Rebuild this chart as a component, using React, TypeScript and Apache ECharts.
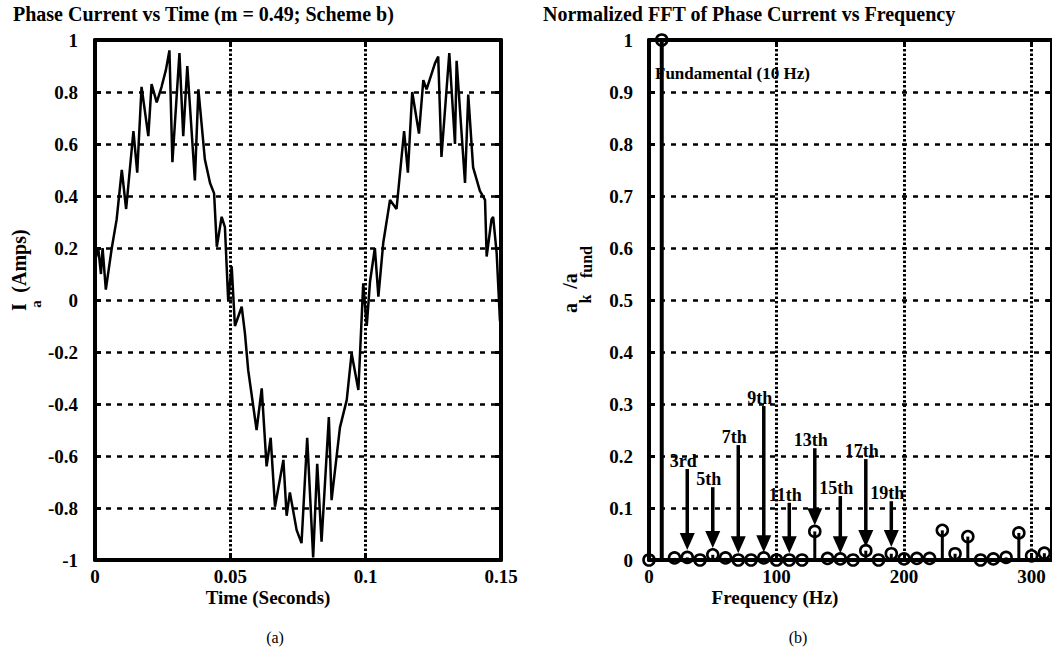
import React, { useEffect, useRef } from "react";
import * as echarts from "echarts";

// ---- Left panel: phase current waveform ----
const timeS = [
  0, 0.0012, 0.0022, 0.0028, 0.004, 0.0062, 0.008, 0.0099, 0.0115, 0.0142, 0.0156, 0.0172,
  0.0197, 0.0209, 0.0228, 0.0246, 0.0262, 0.0275, 0.0286, 0.0312, 0.0326, 0.0341, 0.0369,
  0.0382, 0.0406, 0.0425, 0.044, 0.045, 0.0468, 0.048, 0.0492, 0.0505, 0.0517, 0.0542,
  0.0554, 0.0566, 0.0597, 0.0616, 0.0634, 0.0649, 0.0665, 0.0696, 0.0708, 0.072, 0.0745,
  0.0763, 0.0784, 0.0806, 0.0821, 0.0837, 0.0864, 0.0874, 0.0905, 0.093, 0.0948, 0.0973,
  0.0991, 0.1004, 0.1016, 0.1034, 0.1047, 0.1065, 0.109, 0.1114, 0.1142, 0.1156, 0.1172,
  0.1197, 0.1213, 0.1225, 0.1256, 0.1268, 0.128, 0.1309, 0.133, 0.1336, 0.1367, 0.1379,
  0.1397, 0.1422, 0.1441, 0.1447, 0.1465, 0.1471, 0.1484, 0.1496, 0.15,
];
const currentA = [
  0.15, 0.2, 0.1, 0.2, 0.04, 0.2, 0.31, 0.5, 0.35, 0.65, 0.49, 0.82,
  0.63, 0.83, 0.76, 0.82, 0.885, 0.96, 0.53, 0.95, 0.63, 0.9, 0.46,
  0.81, 0.54, 0.45, 0.41, 0.205, 0.32, 0.28, 0.0, 0.13, -0.1, -0.026,
  -0.128, -0.27, -0.5, -0.34, -0.64, -0.53, -0.795, -0.615, -0.83, -0.74, -0.885,
  -0.935, -0.53, -0.99, -0.63, -0.93, -0.45, -0.77, -0.49, -0.385, -0.205, -0.346,
  0.064, -0.1, 0.07, 0.2, 0.013, 0.22, 0.385, 0.35, 0.65, 0.49, 0.8,
  0.64, 0.846, 0.81, 0.91, 0.936, 0.55, 0.95, 0.6, 0.92, 0.45, 0.79,
  0.51, 0.42, 0.385, 0.167, 0.31, 0.32, 0.18, -0.077, -0.1,
];

// ---- Right panel: normalized FFT ----
const freqHz = [
  0, 10, 20, 30, 40, 50, 60, 70, 80, 90, 100, 110, 120, 130, 140, 150, 160, 170, 180, 190,
  200, 210, 220, 230, 240, 250, 260, 270, 280, 290, 300, 310,
];
const fftMag = [
  0, 1.0, 0.004, 0.005, 0.0, 0.01, 0.004, 0.0, 0.0, 0.004, 0.0, 0.0, 0.0, 0.055, 0.003, 0.002,
  0.0, 0.018, 0.0, 0.012, 0.002, 0.003, 0.003, 0.057, 0.012, 0.045, 0.0, 0.002, 0.005, 0.052,
  0.008, 0.013,
];

// ---- Harmonic annotations (arrows) ----
const harmonicLabels = ["3rd", "5th", "7th", "9th", "11th", "13th", "15th", "17th", "19th"];
const harmonicFreq = [30, 50, 70, 90, 110, 130, 150, 170, 190];
const arrowTop = [0.175, 0.14, 0.221, 0.296, 0.11, 0.215, 0.123, 0.194, 0.113];
const arrowTip = [0.019, 0.023, 0.013, 0.015, 0.013, 0.067, 0.013, 0.025, 0.025];

// ---- Tick labels ----
const timeTicks = ["0", "0.05", "0.1", "0.15"];
const freqTicks = ["0", "100", "200", "300"];

const FONT = '"Liberation Serif", "Times New Roman", serif';
const BOLD = (s: number) => `bold ${s}px ${FONT}`;

export default function App() {
  const ref = useRef<HTMLDivElement>(null);

  useEffect(() => {
    document.body.style.margin = "0";
    if (!ref.current) return;
    const chart = echarts.init(ref.current, undefined, { renderer: "svg" });

    const waveData = timeS.map((t, i) => [t, currentA[i]]);
    const fftData = freqHz.map((f, i) => [f, fftMag[i]]);
    const arrowData = harmonicFreq.map((f, i) => [f, arrowTop[i], arrowTip[i]]);

    const hSplit = { show: true, lineStyle: { color: "#000", width: 2.5, type: [5, 6] as any } };
    const vSplit = { show: true, lineStyle: { color: "#000", width: 3, type: [2.5, 2] as any } };
    const axLine = { show: true, onZero: false, lineStyle: { color: "#000", width: 4 } };
    const axTick = { show: true, inside: true, length: 6, lineStyle: { color: "#000", width: 3 } };
    const lbl = {
      color: "#000", fontFamily: FONT, fontWeight: "bold" as const, fontSize: 19, lineHeight: 17,
    };

    const txt = (text: string, x: number, y: number, size: number, opts: any = {}) => ({
      type: "text",
      x,
      y,
      rotation: opts.rotation || 0,
      silent: true,
      style: {
        text,
        font: opts.normal ? `${size}px ${FONT}` : BOLD(size),
        lineHeight: opts.lh || undefined,
        fill: "#000",
        textAlign: opts.align || "center",
        textVerticalAlign: "middle",
      },
    });

    const option: any = {
      animation: false,
      backgroundColor: "#fff",
      grid: [
        { left: 95, top: 40, width: 406, height: 520, show: false },
        { left: 649, top: 40, width: 405, height: 520, show: false },
      ],
      xAxis: [
        {
          type: "value", gridIndex: 0, min: 0, max: 0.15, interval: 0.05, position: "bottom",
          axisLine: axLine, axisTick: axTick, splitLine: vSplit,
          axisLabel: {
            ...lbl, margin: 8,
            formatter: (v: number) => timeTicks[Math.round(v / 0.05)] ?? "",
          },
        },
        {
          type: "value", gridIndex: 0, min: 0, max: 0.15, interval: 0.05, position: "top",
          axisLine: axLine, axisTick: axTick, splitLine: { show: false }, axisLabel: { show: false },
        },
        {
          type: "value", gridIndex: 1, min: 0, max: 316, interval: 100, position: "bottom",
          axisLine: axLine, axisTick: axTick, splitLine: vSplit,
          axisLabel: {
            ...lbl, margin: 8,
            formatter: (v: number) => freqTicks[Math.round(v / 100)] ?? "",
          },
        },
        {
          type: "value", gridIndex: 1, min: 0, max: 316, interval: 100, position: "top",
          axisLine: axLine, axisTick: axTick, splitLine: { show: false }, axisLabel: { show: false },
        },
      ],
      yAxis: [
        {
          type: "value", gridIndex: 0, min: -1, max: 1, interval: 0.2, position: "left",
          axisLine: axLine, axisTick: axTick, splitLine: hSplit,
          axisLabel: { ...lbl, margin: 17, formatter: (v: number) => String(Math.round(v * 10) / 10) },
        },
        {
          type: "value", gridIndex: 0, min: -1, max: 1, interval: 0.2, position: "right",
          axisLine: axLine, axisTick: axTick, splitLine: { show: false }, axisLabel: { show: false },
        },
        {
          type: "value", gridIndex: 1, min: 0, max: 1, interval: 0.1, position: "left",
          axisLine: axLine, axisTick: axTick, splitLine: hSplit,
          axisLabel: { ...lbl, margin: 16, formatter: (v: number) => String(Math.round(v * 10) / 10) },
        },
        {
          type: "value", gridIndex: 1, min: 0, max: 1, interval: 0.1, position: "right",
          axisLine: axLine, axisTick: axTick, splitLine: { show: false }, axisLabel: { show: false },
        },
      ],
      series: [
        {
          type: "line",
          xAxisIndex: 0,
          yAxisIndex: 0,
          data: waveData,
          showSymbol: false,
          symbol: "none",
          lineStyle: { color: "#000", width: 2.5 },
          z: 5,
        },
        {
          type: "custom",
          xAxisIndex: 2,
          yAxisIndex: 2,
          data: fftData,
          clip: false,
          z: 6,
          renderItem: (params: any, api: any) => {
            const f = api.value(0);
            const v = api.value(1);
            const p0 = api.coord([f, 0]);
            const p1 = api.coord([f, v]);
            return {
              type: "group",
              children: [
                {
                  type: "line",
                  shape: { x1: p0[0], y1: p0[1], x2: p1[0], y2: p1[1] },
                  style: { stroke: "#000", lineWidth: v > 0.5 ? 4 : 3 },
                },
                {
                  type: "circle",
                  shape: { cx: p1[0], cy: p1[1], r: 5.5 },
                  style: { fill: "none", stroke: "#000", lineWidth: 2.6 },
                },
              ],
            };
          },
        },
        {
          type: "custom",
          xAxisIndex: 2,
          yAxisIndex: 2,
          data: arrowData,
          clip: false,
          z: 7,
          renderItem: (params: any, api: any) => {
            const f = api.value(0);
            const top = api.value(1);
            const tip = api.value(2);
            const a = api.coord([f, top]);
            const b = api.coord([f, tip]);
            const headH = 17;
            const headW = 7.5;
            return {
              type: "group",
              children: [
                {
                  type: "line",
                  shape: { x1: a[0], y1: a[1], x2: b[0], y2: b[1] - headH + 2 },
                  style: { stroke: "#000", lineWidth: 3.5 },
                },
                {
                  type: "polygon",
                  shape: {
                    points: [
                      [b[0] - headW, b[1] - headH],
                      [b[0] + headW, b[1] - headH],
                      [b[0], b[1]],
                    ],
                  },
                  style: { fill: "#000" },
                },
                {
                  type: "text",
                  x: a[0] - 4,
                  y: a[1] + 1,
                  style: {
                    text: harmonicLabels[params.dataIndex],
                    font: BOLD(18),
                    fill: "#000",
                    textAlign: "center",
                    textVerticalAlign: "bottom",
                  },
                },
              ],
            };
          },
        },
      ],
      graphic: [
        txt("Phase Current vs Time (m = 0.49; Scheme b)", 13, 14, 20, { align: "left" }),
        txt("Normalized FFT of Phase Current vs Frequency", 543, 14, 20, { align: "left" }),
        txt("Time (Seconds)", 268, 597, 19, { lh: 16 }),
        txt("Frequency (Hz)", 775, 597, 19, { lh: 16 }),
        txt("(Amps)", 19, 261, 20, { rotation: Math.PI / 2 }),
        txt("I", 19, 307, 20, { rotation: Math.PI / 2 }),
        txt("a", 36, 304, 15, { rotation: Math.PI / 2 }),
        txt("a", 570, 308, 20, { rotation: Math.PI / 2 }),
        txt("/a", 570, 281, 20, { rotation: Math.PI / 2 }),
        txt("k", 585, 299, 16, { rotation: Math.PI / 2 }),
        txt("fund", 586, 262, 16, { rotation: Math.PI / 2 }),
        txt("Fundamental (10 Hz)", 655, 73, 17, { align: "left" }),
        txt("(a)", 275, 637, 16, { normal: true }),
        txt("(b)", 798, 637, 16, { normal: true }),
      ],
    };

    chart.setOption(option);
    return () => chart.dispose();
  }, []);

  return <div ref={ref} style={{ width: 1052, height: 657 }} />;
}
